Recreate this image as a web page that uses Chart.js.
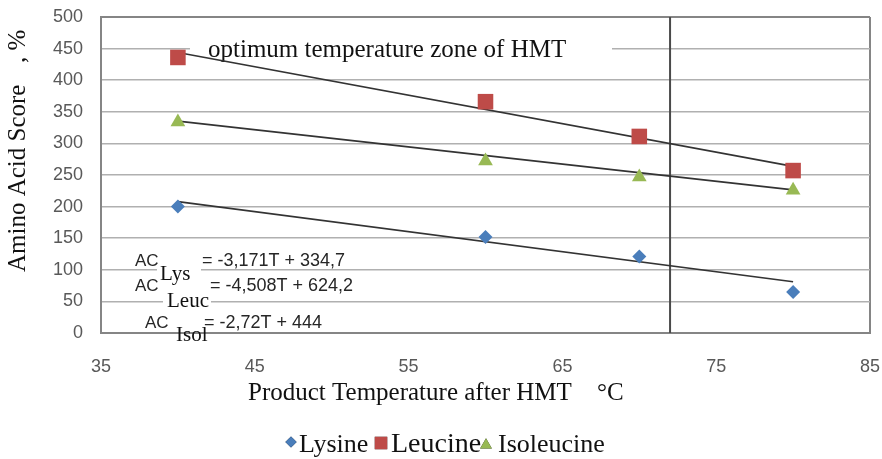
<!DOCTYPE html>
<html>
<head>
<meta charset="utf-8">
<title>Amino Acid Score vs Product Temperature</title>
<script src="https://cdn.jsdelivr.net/npm/chart.js"></script>
<style>
  html, body { margin: 0; padding: 0; background: #fff; }
  #wrap { width: 882px; height: 459px; }
</style>
</head>
<body>
<div id="wrap"><canvas id="acChart"></canvas></div>
<script>
// data
const temps = [40, 60, 70, 80];
const lysine = [200, 152, 121, 65];
const leucine = [436, 366, 311, 257];
const isoleucine = [334, 272, 247, 226];

// trend line ends (from the printed equations)
const trendTemps = [40, 80];
const lysineTrend = [207.9, 81.0];
const leucineTrend = [443.9, 263.6];
const isoleucineTrend = [335.2, 226.4];

// border of the optimum zone
const zoneTemp = 72;
const zoneRange = [0, 500];

const xTicks = [35, 45, 55, 65, 75, 85];
const yTicks = [0, 50, 100, 150, 200, 250, 300, 350, 400, 450, 500];

const seriesNames = ['Lysine', 'Leucine', 'Isoleucine'];
const equations = ['= -3,171T + 334,7', '= -4,508T + 624,2', '= -2,72T + 444'];
const eqSubs = ['Lys', 'Leuc', 'Isol'];

const BLUE = '#4a7ebb';
const RED = '#be4b48';
const GREEN = '#98b954';
const LINE = '#333333';
const BORDER = '#858585';
const GRID = '#b0b0b0';
const SERIF = '"Liberation Serif", "Times New Roman", serif';
const SANS = '"Liberation Sans", Arial, sans-serif';

const pts = (xs, ys) => xs.map((x, i) => ({ x, y: ys[i] }));

const markerStyle = {
  Lysine: { pointStyle: 'rectRot', radius: 7 },
  Leucine: { pointStyle: 'rect', radius: 11 },
  Isoleucine: { pointStyle: 'triangle', radius: 8.5 },
};

function text(ctx, str, x, y, font, color, align, baseline) {
  ctx.font = font;
  ctx.fillStyle = color || '#111';
  ctx.textAlign = align || 'left';
  ctx.textBaseline = baseline || 'alphabetic';
  ctx.fillText(str, x, y);
}

// labels, equation boxes, axis titles and legend
const extras = {
  id: 'extras',
  beforeDatasetsDraw(chart) {
    const ctx = chart.ctx;
    ctx.save();
    // white label boxes hiding the grid lines
    ctx.fillStyle = '#fff';
    ctx.fillRect(190, 41, 422, 15);
    ctx.fillRect(157, 263, 44, 19);
    ctx.fillRect(163, 292, 48, 18);

    text(ctx, 'optimum temperature zone of HMT', 208, 57, '25px ' + SERIF, '#111');

    const acX = [135, 135, 145];
    const acY = [266, 291, 328];
    const eqX = [202, 210, 204];
    const subX = [160, 167, 176];
    const subY = [280, 307, 341];
    for (let i = 0; i < 3; i++) {
      text(ctx, 'AC', acX[i], acY[i], '17px ' + SANS, '#262626');
      text(ctx, equations[i], eqX[i], acY[i], '18px ' + SANS, '#262626');
      text(ctx, eqSubs[i], subX[i], subY[i], '21px ' + SERIF, '#111');
    }
    ctx.restore();
  },
  afterDraw(chart) {
    const ctx = chart.ctx;
    ctx.save();
    // y title
    ctx.translate(25, 272);
    ctx.rotate(-Math.PI / 2);
    text(ctx, 'Amino Acid Score', 0, 0, '25px ' + SERIF, '#111');
    text(ctx, ', %', 209, 0, '25px ' + SERIF, '#111');
    ctx.restore();

    ctx.save();
    text(ctx, 'Product Temperature after HMT', 248, 400, '25px ' + SERIF, '#111');
    text(ctx, '°C', 597, 400, '25px ' + SERIF, '#111');

    // legend
    const items = [
      { mx: 291, my: 442, tx: 299, size: 26 },
      { mx: 381, my: 443, tx: 391, size: 28 },
      { mx: 486, my: 445, tx: 498, size: 26 },
    ];
    items.forEach((it, i) => {
      const ds = chart.data.datasets[i];
      const m = markerStyle[ds.label];
      Chart.helpers.drawPoint(ctx, {
        pointStyle: m.pointStyle,
        radius: m.radius * 0.8,
        rotation: 0,
        borderWidth: 0,
      }, it.mx, it.my);
      ctx.fillStyle = ds.backgroundColor;
      ctx.fill();
      text(ctx, ds.label, it.tx, 452, it.size + 'px ' + SERIF, '#111');
    });
    ctx.restore();
  },
};

const pointSet = (label, values, color) => ({
  label,
  data: pts(temps, values),
  backgroundColor: color,
  borderColor: color,
  borderWidth: 0,
  pointStyle: markerStyle[label].pointStyle,
  pointRadius: markerStyle[label].radius,
  pointHoverRadius: markerStyle[label].radius,
  showLine: false,
  order: 1,
});

const trendSet = (values) => ({
  label: 'trend',
  data: pts(trendTemps, values),
  borderColor: LINE,
  borderWidth: 1.6,
  pointRadius: 0,
  showLine: true,
  fill: false,
  order: 2,
});

new Chart(document.getElementById('acChart'), {
  type: 'scatter',
  data: {
    datasets: [
      pointSet(seriesNames[0], lysine, BLUE),
      pointSet(seriesNames[1], leucine, RED),
      pointSet(seriesNames[2], isoleucine, GREEN),
      trendSet(lysineTrend),
      trendSet(leucineTrend),
      trendSet(isoleucineTrend),
      {
        label: 'zone',
        data: pts([zoneTemp, zoneTemp], zoneRange),
        borderColor: '#4a4a4a',
        borderWidth: 2,
        pointRadius: 0,
        showLine: true,
        order: 3,
      },
    ],
  },
  options: {
    responsive: true,
    maintainAspectRatio: false,
    animation: false,
    layout: { autoPadding: false, padding: { top: 17, right: 12, bottom: 0, left: 0 } },
    plugins: {
      legend: { display: false },
      tooltip: { enabled: false },
    },
    scales: {
      x: {
        type: 'linear',
        min: xTicks[0],
        max: xTicks[xTicks.length - 1],
        afterBuildTicks: (s) => { s.ticks = xTicks.map((v) => ({ value: v })); },
        afterFit: (s) => {
          s.height = 126;
          s.paddingLeft = 0;
          s.paddingRight = 0;
        },
        ticks: {
          padding: 23,
          color: '#595959',
          font: { family: SANS, size: 18 },
        },
        grid: {
          drawTicks: false,
          lineWidth: 2,
          color: (c) => (c.tick && c.tick.value === xTicks[xTicks.length - 1] ? BORDER : 'rgba(0,0,0,0)'),
        },
        border: { color: BORDER, width: 2 },
      },
      y: {
        min: yTicks[0],
        max: yTicks[yTicks.length - 1],
        afterBuildTicks: (s) => { s.ticks = yTicks.map((v) => ({ value: v })); },
        afterFit: (s) => {
          s.width = 101;
          s.paddingTop = 0;
          s.paddingBottom = 0;
        },
        ticks: {
          padding: 18,
          color: '#595959',
          font: { family: SANS, size: 18 },
        },
        grid: {
          drawTicks: false,
          lineWidth: (c) => (c.tick && c.tick.value === 500 ? 2 : 1.5),
          color: (c) => (c.tick && c.tick.value === 500 ? BORDER : GRID),
        },
        border: { color: BORDER, width: 2 },
      },
    },
  },
  plugins: [extras],
});
</script>
</body>
</html>
